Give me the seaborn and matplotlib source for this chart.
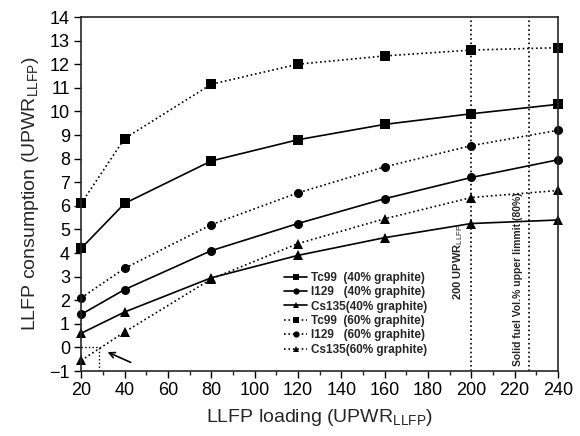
import numpy as np
import pandas as pd
import matplotlib
matplotlib.use('Agg')
import matplotlib.pyplot as plt
import seaborn as sns

# LLFP loading (UPWR_LLFP)
loading = [20, 40, 80, 120, 160, 200, 240]

# consumption values
tc99_40 = [4.2, 6.1, 7.9, 8.8, 9.45, 9.9, 10.3]
i129_40 = [1.4, 2.45, 4.1, 5.25, 6.3, 7.2, 7.95]
cs135_40 = [0.6, 1.5, 2.95, 3.9, 4.65, 5.25, 5.4]
tc99_60 = [6.1, 8.85, 11.15, 12.0, 12.35, 12.6, 12.7]
i129_60 = [2.1, 3.35, 5.2, 6.55, 7.65, 8.55, 9.2]
cs135_60 = [-0.55, 0.65, 2.9, 4.4, 5.45, 6.35, 6.65]

labels = ['Tc99  (40% graphite)', 'I129   (40% graphite)', 'Cs135(40% graphite)',
          'Tc99  (60% graphite)', 'I129   (60% graphite)', 'Cs135(60% graphite)']
series = [tc99_40, i129_40, cs135_40, tc99_60, i129_60, cs135_60]
markers = ['s', 'o', '^', 's', 'o', '^']
styles = ['-', '-', '-', ':', ':', ':']

sns.set_style('ticks')
plt.rcParams['font.family'] = ['Liberation Sans', 'DejaVu Sans']
plt.rcParams['mathtext.fontset'] = 'custom'
plt.rcParams['mathtext.rm'] = 'Liberation Sans'

fig = plt.figure(figsize=(5.8, 4.36), dpi=100)
ax = fig.add_axes([0.14, 0.149, 0.822, 0.812])

for vals, lab, m, ls in zip(series, labels, markers, styles):
    df = pd.DataFrame({'x': loading, 'y': vals})
    sns.lineplot(data=df, x='x', y='y', ax=ax, color='black', marker=m,
                 linestyle=ls, linewidth=1.2, markersize=6.5, markeredgewidth=0,
                 label=lab, clip_on=False)

# vertical reference lines
ax.axvline(200, color='black', linestyle=':', linewidth=1.2)
ax.axvline(226.5, color='black', linestyle=':', linewidth=1.2)
ax.text(194, 2.0, '200 UPWR$_{\\mathrm{LLFP}}$', rotation=90, fontsize=8,
        fontweight='bold', ha='center', va='bottom')
ax.text(221.5, -0.8, 'Solid fuel Vol.% upper limmit (80%)', rotation=90,
        fontsize=7.5, fontweight='bold', ha='center', va='bottom')

# zero crossing marker
ax.plot([20, 28], [0, 0], color='black', linestyle=':', linewidth=1)
ax.plot([28, 28], [-1, 0], color='black', linestyle=':', linewidth=1)
ax.annotate('', xy=(31, -0.15), xytext=(44, -0.68),
            arrowprops=dict(arrowstyle='->', color='black', lw=1.2))

ax.set_xlim(20, 240)
ax.set_ylim(-1, 14)
ax.set_xticks(range(20, 241, 20))
ax.set_xticks(range(30, 240, 20), minor=True)
ax.set_yticks(range(-1, 15))
ax.tick_params(axis='both', labelsize=13, width=1, length=5, colors='black',
               direction='out', pad=3)
ax.tick_params(axis='x', which='minor', direction='out', length=3, width=1)
for sp in ax.spines.values():
    sp.set_visible(True)
    sp.set_linewidth(1.2)

ax.set_xlabel('LLFP loading (UPWR$_{\\mathrm{LLFP}}$)', fontsize=14, labelpad=6)
ax.set_ylabel('LLFP consumption (UPWR$_{\\mathrm{LLFP}}$)', fontsize=14, labelpad=6)

leg = ax.legend(loc='lower left', bbox_to_anchor=(0.415, 0.03), frameon=False,
                prop={'size': 8.5, 'weight': 'bold'}, handlelength=2.0,
                handletextpad=0.3, labelspacing=0.2, borderaxespad=0)
for h in leg.legend_handles:
    h.set_markersize(4.5)

fig.savefig('out.png', dpi=100)
